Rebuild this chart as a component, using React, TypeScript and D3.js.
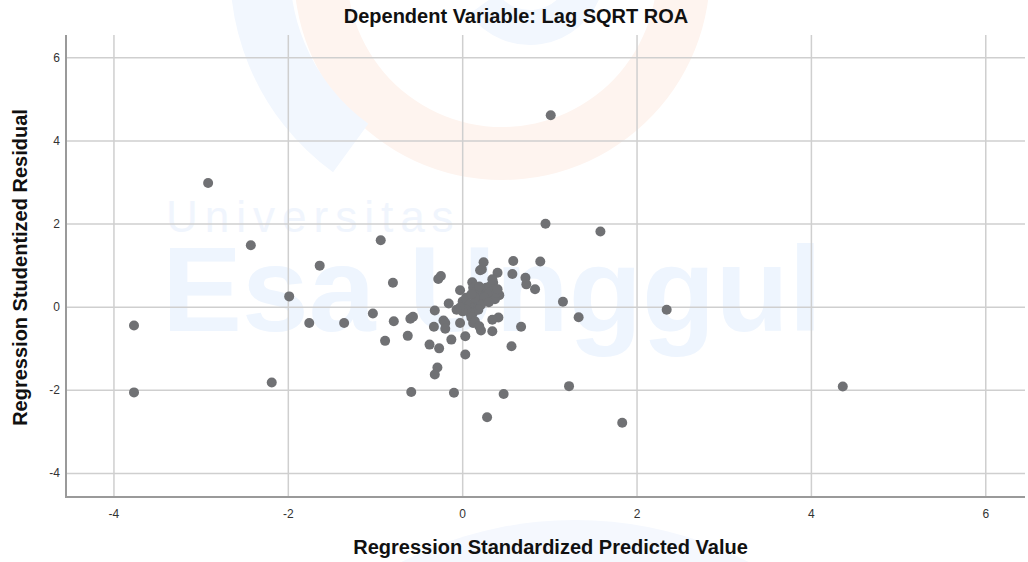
import * as d3 from 'd3';

// regression standardized predicted value
const predicted = [
  -3.77, -3.77, -2.92, -2.43, -2.19, -1.99, -1.64, -1.76, -1.36, -0.94,
  -0.80, -1.03, -0.79, -0.89, -0.60, -0.57, -0.63, -0.59, -0.10, 0.47,
  0.28, 1.01, 0.95, 1.58, 0.89, 1.15, 1.33, 1.22, 1.83, 2.34,
  4.36, -0.28, -0.25, -0.32, -0.22, -0.20, -0.33, -0.20, -0.38, -0.27,
  -0.13, -0.29, -0.32, -0.03, -0.16, -0.03, 0.03, 0.03, 0.24, 0.22,
  0.20, 0.58, 0.57, 0.40, 0.72, 0.73, 0.83, 0.11, 0.12, 0.42,
  0.67, 0.56, 0.41, 0.34, 0.34, 0.21, 0.12, 0.00, 0.04, 0.08,
  0.14, 0.18, 0.21, 0.24, 0.27, 0.31, 0.35, 0.33, 0.29, 0.25,
  0.21, 0.18, 0.12, 0.08, 0.04, 0.00, -0.03, -0.07, 0.37, 0.39,
  0.40, 0.30, 0.34, 0.16, 0.19, 0.14, 0.10, 0.10, 0.14, 0.19,
];

// regression studentized residual
const residual = [
  -0.44, -2.05, 2.99, 1.49, -1.81, 0.26, 1.00, -0.38, -0.38, 1.61,
  0.59, -0.15, -0.34, -0.81, -0.28, -0.23, -0.69, -2.04, -2.06, -2.09,
  -2.65, 4.62, 2.01, 1.82, 1.10, 0.13, -0.24, -1.90, -2.78, -0.06,
  -1.91, 0.68, 0.75, -0.08, -0.32, -0.38, -0.47, -0.52, -0.90, -0.99,
  -0.78, -1.45, -1.62, 0.41, 0.09, -0.38, -0.70, -1.14, 1.08, 0.91,
  0.89, 1.11, 0.80, 0.83, 0.71, 0.55, 0.43, 0.60, 0.47, 0.29,
  -0.47, -0.94, -0.25, -0.30, -0.58, -0.56, -0.38, 0.14, 0.23, 0.06,
  0.02, 0.14, 0.26, 0.36, 0.47, 0.50, 0.59, 0.38, 0.31, 0.23,
  0.06, -0.06, -0.13, -0.13, -0.06, -0.10, -0.01, -0.06, 0.19, 0.35,
  0.43, 0.12, 0.67, 0.38, 0.50, 0.23, 0.31, -0.25, -0.34, -0.46,
];

const xTicks = [-4, -2, 0, 2, 4, 6];
const yTicks = [-4, -2, 0, 2, 4, 6];

const W = 1028;
const H = 562;
const font = "'Liberation Sans', Arial, sans-serif";

export default function App() {
  const x = d3.scaleLinear().domain([-4.55, 6.45]).range([66, 1025]);
  const y = d3.scaleLinear().domain([-4.56, 6.55]).range([496.7, 35]);

  const points = predicted.map((p, i) => ({ px: p, py: residual[i] }));

  // faint logo pieces behind the plot (watermark of the source page)
  const orangeRing = d3.arc()({ innerRadius: 155, outerRadius: 208, startAngle: Math.PI * 0.45, endAngle: Math.PI * 1.55 } as any);
  const blueHook = d3.arc()({ innerRadius: 190, outerRadius: 250, startAngle: Math.PI * 1.2, endAngle: Math.PI * 1.55 } as any);
  const blueTop = d3.arc()({ innerRadius: 40, outerRadius: 75, startAngle: Math.PI * 0.6, endAngle: Math.PI * 1.3 } as any);

  return (
    <svg width={W} height={H} style={{ position: 'absolute', left: 0, top: 0, background: '#fff' }}>
      <g>
        <circle cx={575} cy={900} r={380} fill="#f5f8fe" />
        <path d={orangeRing || ''} transform="translate(502,-28)" fill="#fef4ef" />
        <path d={blueHook || ''} transform="translate(480,-30)" fill="#f2f7fe" />
        <path d={blueTop || ''} transform="translate(530,-30)" fill="#f2f7fe" />
        <text x={166} y={232} fontFamily={font} fontSize={44} fill="#f0f5fd" letterSpacing={7}>Universitas</text>
        <text x={162} y={331} fontFamily={font} fontWeight="bold" fontSize={120} fill="#eef5fe">Esa Unggul</text>
      </g>

      {xTicks.map(t => (
        <line key={'gx' + t} x1={x(t)} x2={x(t)} y1={35} y2={496.7} stroke="#cfcfcf" strokeWidth={1.5} />
      ))}
      {yTicks.map(t => (
        <line key={'gy' + t} x1={66} x2={1025} y1={y(t)} y2={y(t)} stroke="#cfcfcf" strokeWidth={1.5} />
      ))}

      <line x1={66} x2={66} y1={35} y2={497} stroke="#9a9a9a" strokeWidth={2} />
      <line x1={65} x2={1025} y1={497} y2={497} stroke="#9a9a9a" strokeWidth={2} />

      {yTicks.map(t => (
        <text key={'ty' + t} x={60} y={y(t) + 4} textAnchor="end" fontFamily={font} fontSize={12} fill="#333">{t}</text>
      ))}
      {xTicks.map(t => (
        <text key={'tx' + t} x={x(t)} y={518} textAnchor="middle" fontFamily={font} fontSize={12} fill="#333">{t}</text>
      ))}

      {points.map((d, i) => (
        <circle key={i} cx={x(d.px)} cy={y(d.py)} r={5} fill="#707174" />
      ))}

      <text x={516} y={23} textAnchor="middle" fontFamily={font} fontWeight="bold" fontSize={20} fill="#111">
        Dependent Variable: Lag SQRT ROA
      </text>
      <text x={550.5} y={554} textAnchor="middle" fontFamily={font} fontWeight="bold" fontSize={20} fill="#111">
        Regression Standardized Predicted Value
      </text>
      <text transform="translate(27,267.5) rotate(-90)" textAnchor="middle" fontFamily={font} fontWeight="bold" fontSize={20} fill="#111">
        Regression Studentized Residual
      </text>
    </svg>
  );
}
